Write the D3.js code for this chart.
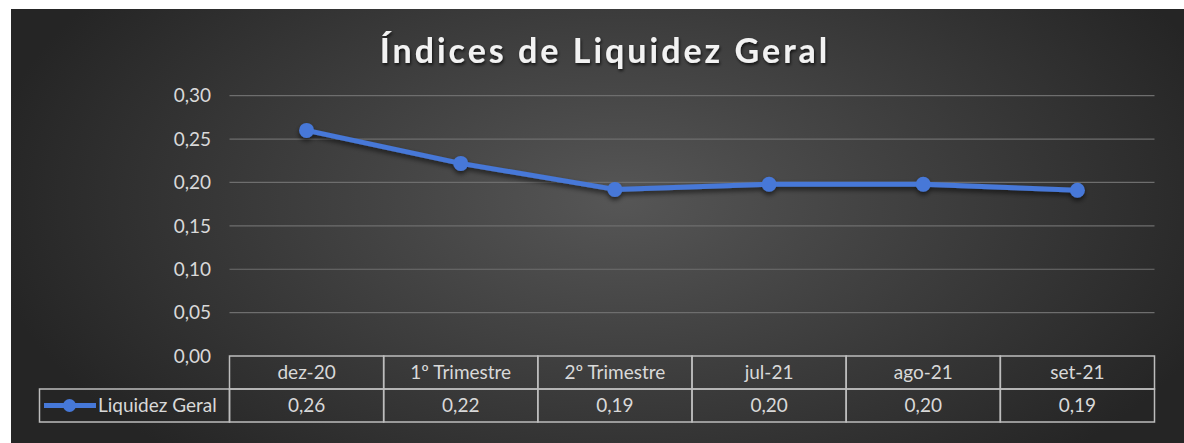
<!DOCTYPE html>
<html lang="pt">
<head>
  <meta charset="UTF-8">
  <title>Índices de Liquidez Geral</title>
  <script src="https://cdn.jsdelivr.net/npm/d3@7"></script>
  <style>
    html, body { margin: 0; padding: 0; background: #fff; }
    svg text { font-family: Lato, "Open Sans", sans-serif; fill: #d9d9d9; }
  </style>
</head>
<body>
<script>
  // data
  var categories = ["dez-20", "1º Trimestre", "2º Trimestre", "jul-21", "ago-21", "set-21"];
  var values = [0.26, 0.222, 0.192, 0.198, 0.198, 0.191];
  var yTicks = [0, 0.05, 0.10, 0.15, 0.20, 0.25, 0.30];
  var seriesName = "Liquidez Geral";
  var title = "Índices de Liquidez Geral";

  var W = 1184, H = 443;
  var plot = {left: 229.5, right: 1154.5, top: 95.7, bottom: 356};
  var rowH = 33;
  var fs = "19px";

  var fmt = function(v) { return d3.format(".2f")(v).replace(".", ","); };

  var svg = d3.select("body").append("svg")
      .attr("width", W).attr("height", H);

  var defs = svg.append("defs");
  var grad = defs.append("radialGradient").attr("id", "bg")
      .attr("gradientUnits", "userSpaceOnUse")
      .attr("cx", 620).attr("cy", 200).attr("r", 640)
      .attr("gradientTransform", "translate(620,200) scale(1,0.55) translate(-620,-200)");
  grad.append("stop").attr("offset", "0%").attr("stop-color", "#565656");
  grad.append("stop").attr("offset", "100%").attr("stop-color", "#252525");

  var shadow = defs.append("filter").attr("id", "shadow")
      .attr("x", "-10%").attr("y", "-20%").attr("width", "120%").attr("height", "160%");
  shadow.append("feDropShadow").attr("dx", 0).attr("dy", 3).attr("stdDeviation", 2.5)
      .attr("flood-color", "#000").attr("flood-opacity", 0.6);

  var tshadow = defs.append("filter").attr("id", "tshadow");
  tshadow.append("feDropShadow").attr("dx", 1).attr("dy", 2).attr("stdDeviation", 1.5)
      .attr("flood-color", "#000").attr("flood-opacity", 0.7);

  svg.append("rect").attr("x", 11).attr("y", 9)
      .attr("width", W - 11).attr("height", H - 9)
      .attr("fill", "url(#bg)");

  // title
  svg.append("text")
      .attr("x", 605).attr("y", 63)
      .attr("text-anchor", "middle")
      .style("font-size", "34px").style("font-weight", "bold")
      .style("letter-spacing", "3px")
      .style("fill", "#f2f2f2")
      .attr("filter", "url(#tshadow)")
      .text(title);

  var x = d3.scaleBand().domain(categories).range([plot.left, plot.right]);
  var y = d3.scaleLinear().domain([0, 0.30]).range([plot.bottom, plot.top]);

  // gridlines
  svg.append("g").selectAll("line").data(yTicks.filter(function(d) { return d > 0; }))
    .enter().append("line")
      .attr("x1", plot.left).attr("x2", plot.right)
      .attr("y1", function(d) { return y(d); }).attr("y2", function(d) { return y(d); })
      .attr("stroke", "#6e6e6e").attr("stroke-width", 1.2);

  // y axis labels
  svg.append("g").selectAll("text").data(yTicks)
    .enter().append("text")
      .attr("x", 211).attr("y", function(d) { return y(d); })
      .attr("dy", "0.35em")
      .attr("text-anchor", "end")
      .style("font-size", fs)
      .text(fmt);

  // series line
  var line = d3.line()
      .x(function(d, i) { return x(categories[i]) + x.bandwidth() / 2; })
      .y(function(d) { return y(d); });

  var series = svg.append("g").attr("filter", "url(#shadow)");
  series.append("path").datum(values)
      .attr("d", line)
      .attr("fill", "none")
      .attr("stroke", "#4678d8").attr("stroke-width", 5)
      .attr("stroke-linejoin", "round");
  series.selectAll("circle").data(values).enter().append("circle")
      .attr("cx", function(d, i) { return x(categories[i]) + x.bandwidth() / 2; })
      .attr("cy", function(d) { return y(d); })
      .attr("r", 7.5)
      .attr("fill", "#4678d8");

  // data table
  var tbl = svg.append("g");
  var border = "#bdbdbd";
  var t0 = plot.bottom, t1 = t0 + rowH, t2 = t1 + rowH;
  var legendLeft = 39.5;

  tbl.selectAll("rect.hdr").data(categories).enter().append("rect")
      .attr("x", function(d) { return x(d); }).attr("y", t0)
      .attr("width", x.bandwidth()).attr("height", rowH)
      .attr("fill", "none").attr("stroke", border).attr("stroke-width", 1.5);
  tbl.selectAll("rect.val").data(categories).enter().append("rect")
      .attr("x", function(d) { return x(d); }).attr("y", t1)
      .attr("width", x.bandwidth()).attr("height", rowH)
      .attr("fill", "none").attr("stroke", border).attr("stroke-width", 1.5);
  tbl.append("rect")
      .attr("x", legendLeft).attr("y", t1)
      .attr("width", plot.left - legendLeft).attr("height", rowH)
      .attr("fill", "none").attr("stroke", border).attr("stroke-width", 1.5);

  tbl.selectAll("text.hdr").data(categories).enter().append("text")
      .attr("x", function(d) { return x(d) + x.bandwidth() / 2; })
      .attr("y", t0 + rowH / 2).attr("dy", "0.35em")
      .attr("text-anchor", "middle").style("font-size", fs)
      .text(function(d) { return d; });
  tbl.selectAll("text.val").data(values).enter().append("text")
      .attr("x", function(d, i) { return x(categories[i]) + x.bandwidth() / 2; })
      .attr("y", t1 + rowH / 2).attr("dy", "0.35em")
      .attr("text-anchor", "middle").style("font-size", fs)
      .text(fmt);

  // legend key
  var ly = t1 + rowH / 2;
  tbl.append("line").attr("x1", 44).attr("x2", 96).attr("y1", ly).attr("y2", ly)
      .attr("stroke", "#4678d8").attr("stroke-width", 5);
  tbl.append("circle").attr("cx", 69.5).attr("cy", ly).attr("r", 6.5).attr("fill", "#4678d8");
  tbl.append("text")
      .attr("x", 98).attr("y", ly).attr("dy", "0.35em")
      .style("font-size", fs)
      .text(seriesName);
</script>
</body>
</html>
